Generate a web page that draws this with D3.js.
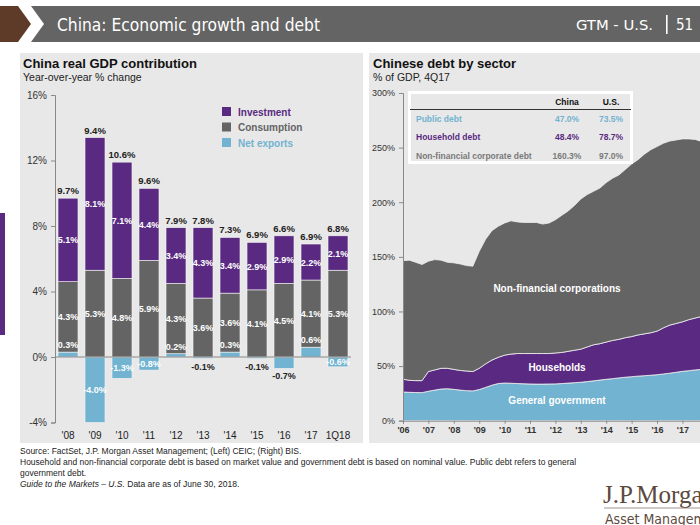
<!DOCTYPE html>
<html><head><meta charset="utf-8">
<script src="https://cdn.jsdelivr.net/npm/d3@7"></script>
<style>
body{margin:0;background:#fff;}
svg{display:block;font-family:"Liberation Sans",Arial,sans-serif;}
</style></head>
<body>
<svg id="c" width="700" height="525"></svg>
<script>
// ---------- DATA ----------
const gdpCats = ["'08","'09","'10","'11","'12","'13","'14","'15","'16","'17","1Q18"];
const investment = [5.1, 8.1, 7.1, 4.4, 3.4, 4.3, 3.4, 2.9, 2.9, 2.2, 2.1];
const consumption = [4.3, 5.3, 4.8, 5.9, 4.3, 3.6, 3.6, 4.1, 4.5, 4.1, 5.3];
const netExports = [0.3, -4.0, -1.3, -0.8, 0.2, -0.1, 0.3, -0.1, -0.7, 0.6, -0.6];
const gdpTotals = [9.7, 9.4, 10.6, 9.6, 7.9, 7.8, 7.3, 6.9, 6.6, 6.9, 6.8];
const gdpTicks = [-4, 0, 4, 8, 12, 16];
const netLabelOutside = ["'13", "'15", "'16"];
const gdpLegend = ["Investment", "Consumption", "Net exports"];

// quarterly, 1Q06 .. 4Q17
const govDebt = [26.3,26.0,25.8,25.7,27.0,28.0,29.0,29.3,28.7,28.0,27.5,27.3,28.5,30.5,32.5,34.0,34.5,34.3,34.0,33.8,33.6,33.5,33.5,33.6,33.7,34.0,34.4,34.8,35.2,35.8,36.5,37.2,37.9,38.5,39.2,39.8,40.3,40.8,41.2,41.6,42.1,42.8,43.5,44.3,45.2,45.8,46.5,47.0];
const householdDebt = [11.7,11.0,10.9,11.0,18.0,18.5,19.0,18.7,18.3,18.0,18.0,17.7,19.5,21.5,23.0,24.0,25.5,26.7,27.5,27.7,27.9,28.0,28.0,27.9,28.3,28.5,29.1,29.7,30.3,31.7,33.0,33.3,34.1,35.0,35.3,36.2,36.7,37.7,38.3,38.9,39.9,42.2,44.0,44.7,45.3,46.7,47.5,48.4];
const corpDebt = [108.5,110.0,108.3,106.3,101.0,101.0,99.0,97.0,97.5,97.5,96.5,96.5,107.0,114.0,118.5,120.0,121.0,122.0,120.5,120.0,120.0,120.0,118.5,119.5,122.0,125.5,128.5,132.5,137.5,139.5,140.5,142.5,146.0,148.5,150.5,154.0,158.0,160.5,164.5,167.5,169.0,169.0,168.5,168.0,167.5,165.5,163.5,160.3];
const debtYearLabels = ["'06","'07","'08","'09","'10","'11","'12","'13","'14","'15","'16","'17"];
const debtTicks = [0, 50, 100, 150, 200, 250, 300];
const tableRows = ["Public debt", "Household debt", "Non-financial corporate debt"];
const tableChina = ["47.0%", "48.4%", "160.3%"];
const tableUS = ["73.5%", "78.7%", "97.0%"];
const areaLabels = ["General government", "Households", "Non-financial corporations"];

// ---------- STYLE ----------
const PURPLE = "#5a2a82", GRAY = "#646464", BLUE = "#71b3d0", PANEL = "#e8e8e8";
const NARROW = "'Liberation Sans Narrow','DejaVu Sans Condensed',sans-serif";
const svg = d3.select("#c");

// Header
svg.append("polygon").attr("points","0,6 18,6 31,24 18,42 0,42").attr("fill","#5e3a29");
svg.append("polygon").attr("points","31,6 700,6 700,42 31,42 44,24").attr("fill","#646464");
svg.append("text").attr("x",57).attr("y",31).attr("fill","#fff")
  .style("font-family",NARROW).style("font-size","18.5px")
  .attr("textLength",263).attr("lengthAdjust","spacingAndGlyphs")
  .text("China: Economic growth and debt");
svg.append("text").attr("x",576).attr("y",30).attr("fill","#fff")
  .style("font-family",NARROW).style("font-size","14px")
  .attr("textLength",77).attr("lengthAdjust","spacingAndGlyphs").text("GTM - U.S.");
svg.append("rect").attr("x",666).attr("y",15).attr("width",1.6).attr("height",19).attr("fill","#fff");
svg.append("text").attr("x",676).attr("y",30).attr("fill","#fff")
  .style("font-family",NARROW).style("font-size","15px").text("51");

// side accent
svg.append("rect").attr("x",0).attr("y",213).attr("width",5).attr("height",122).attr("fill",PURPLE);

// Panels
svg.append("rect").attr("x",20).attr("y",53).attr("width",343).attr("height",390).attr("fill",PANEL);
svg.append("rect").attr("x",369).attr("y",53).attr("width",331).attr("height",390).attr("fill",PANEL);

// ---------- LEFT CHART ----------
const L = svg.append("g");
L.append("text").attr("x",23).attr("y",68).style("font-size","13px").style("font-weight","bold").attr("fill","#111").text("China real GDP contribution");
L.append("text").attr("x",23).attr("y",81).style("font-size","10.5px").attr("fill","#222").text("Year-over-year % change");

const xL = d3.scaleBand().domain(gdpCats).range([54.5, 351.5]).paddingInner(0.26).paddingOuter(0.13);
const yL = d3.scaleLinear().domain([-4, 16]).range([422.5, 95]);

const yAxL = L.append("g").attr("transform","translate(55,0)")
  .call(d3.axisLeft(yL).tickValues(gdpTicks).tickSize(4).tickPadding(4).tickFormat(d => d + "%"));
yAxL.select(".domain").attr("stroke","#888");
yAxL.selectAll(".tick line").attr("stroke","#888");
yAxL.selectAll("text").style("font-size","10px").attr("fill","#333").style("font-family","'Liberation Sans',Arial,sans-serif");

// bars
const rows = gdpCats.map((c,i)=>({c, inv:investment[i], con:consumption[i], net:netExports[i], tot:gdpTotals[i]}));
const bw = xL.bandwidth();
rows.forEach(r=>{
  const x = xL(r.c);
  const base = Math.max(0, r.net);
  const ny0 = Math.min(yL(0), yL(r.net)), nh = Math.abs(yL(r.net)-yL(0));
  L.append("rect").attr("x",x).attr("y",ny0).attr("width",bw).attr("height",nh).attr("fill",BLUE).attr("stroke","#f4f4f4").attr("stroke-width",0.6);
  L.append("rect").attr("x",x).attr("y",yL(base+r.con)).attr("width",bw).attr("height",yL(base)-yL(base+r.con)).attr("fill",GRAY).attr("stroke","#f4f4f4").attr("stroke-width",0.6);
  const top = base + r.con + r.inv;
  L.append("rect").attr("x",x).attr("y",yL(top)).attr("width",bw).attr("height",yL(base+r.con)-yL(top)).attr("fill",PURPLE).attr("stroke","#f4f4f4").attr("stroke-width",0.6);
  const cx = x + bw/2;
  const seg = (v, y, col) => L.append("text").attr("x",cx).attr("y",y).attr("text-anchor","middle")
      .style("font-size","9px").style("font-weight","bold").attr("fill",col).text(v.toFixed(1)+"%");
  seg(r.inv, yL(base + r.con + r.inv/2) + 3.5, "#fff");
  seg(r.con, yL(base + r.con/2) + 3.5, "#fff");
  if (r.net > 0) seg(r.net, yL(r.net) - 4, "#fff");
  else if (netLabelOutside.includes(r.c)) seg(r.net, yL(r.net) + 11, "#222");
  else seg(r.net, yL(r.net/2) + 3.5, "#fff");
  L.append("text").attr("x",cx).attr("y",yL(top)-4).attr("text-anchor","middle")
    .style("font-size","9.5px").style("font-weight","bold").attr("fill","#222").text(r.tot.toFixed(1)+"%");
});
L.append("line").attr("x1",55).attr("x2",351).attr("y1",yL(0)).attr("y2",yL(0)).attr("stroke","#888");
L.append("g").selectAll("text").data(gdpCats).join("text")
  .attr("x",d=>xL(d)+bw/2).attr("y",439).attr("text-anchor","middle")
  .style("font-size","10px").attr("fill","#222").text(d=>d);

// legend
const legCols = [PURPLE, GRAY, BLUE];
gdpLegend.forEach((t,i)=>{
  const y = 107 + i*15.5;
  L.append("rect").attr("x",222).attr("y",y).attr("width",9).attr("height",9).attr("fill",legCols[i]);
  L.append("text").attr("x",238).attr("y",y+8.5).style("font-size","10px").style("font-weight","bold").attr("fill",legCols[i]).text(t);
});

// ---------- RIGHT CHART ----------
const R = svg.append("g");
R.append("text").attr("x",373).attr("y",68).style("font-size","13px").style("font-weight","bold").attr("fill","#111").text("Chinese debt by sector");
R.append("text").attr("x",373).attr("y",81).style("font-size","10.5px").attr("fill","#222").text("% of GDP, 4Q17");

const xR = d3.scaleLinear().domain([0, govDebt.length-1]).range([403, 701.5]);
const yR = d3.scaleLinear().domain([0, 300]).range([420.7, 93]);

const debtRows = govDebt.map((g,i)=>({i, gov:g, hh:householdDebt[i], corp:corpDebt[i]}));
const stack = d3.stack().keys(["gov","hh","corp"])(debtRows);
const area = d3.area().x(d=>xR(d.data.i)).y0(d=>yR(d[0])).y1(d=>yR(d[1]));
const areaCols = [BLUE, PURPLE, GRAY];
R.append("clipPath").attr("id","clipR").append("rect").attr("x",403).attr("y",53).attr("width",297).attr("height",390);
const ag = R.append("g").attr("clip-path","url(#clipR)");
ag.selectAll("path").data(stack).join("path").attr("d",area).attr("fill",(d,i)=>areaCols[i])
  .attr("stroke","#f0f0f0").attr("stroke-width",0.8);

const yAxR = R.append("g").attr("transform","translate(403,0)")
  .call(d3.axisLeft(yR).tickValues(debtTicks).tickSize(4).tickPadding(4).tickFormat(d=>d+"%"));
yAxR.select(".domain").attr("stroke","#888");
yAxR.selectAll(".tick line").attr("stroke","#888");
yAxR.selectAll("text").style("font-size","9px").attr("fill","#333").style("font-family","'Liberation Sans',Arial,sans-serif");

const xAxR = R.append("g").attr("transform","translate(0,420.7)")
  .call(d3.axisBottom(xR).tickValues(debtYearLabels.map((d,i)=>i*4)).tickSize(3).tickPadding(3).tickFormat((d,i)=>debtYearLabels[i]));
xAxR.select(".domain").attr("stroke","#888");
xAxR.selectAll(".tick line").attr("stroke","#888");
xAxR.selectAll("text").style("font-size","9px").style("font-weight","bold").attr("fill","#333").style("font-family","'Liberation Sans',Arial,sans-serif");

// area labels
const alY = [404, 370.5, 291.5];
areaLabels.forEach((t,i)=>{
  R.append("text").attr("x",557).attr("y",alY[i]).attr("text-anchor","middle")
    .style("font-size","10px").style("font-weight","bold").attr("fill","#fff").text(t);
});

// table
R.append("rect").attr("x",408).attr("y",91).attr("width",225).attr("height",73).attr("fill","#fff");
R.append("rect").attr("x",411).attr("y",94).attr("width",219).attr("height",67).attr("fill",PANEL);
R.append("text").attr("x",567).attr("y",105).attr("text-anchor","middle").style("font-size","8.5px").style("font-weight","bold").attr("fill","#111").text("China");
R.append("text").attr("x",611).attr("y",105).attr("text-anchor","middle").style("font-size","8.5px").style("font-weight","bold").attr("fill","#111").text("U.S.");
R.append("line").attr("x1",410).attr("x2",631).attr("y1",109.5).attr("y2",109.5).attr("stroke","#333").attr("stroke-width",1);
const tCols = [BLUE, PURPLE, "#7a7a7a"];
tableRows.forEach((t,i)=>{
  const y = 122 + i*18.3;
  R.append("text").attr("x",416).attr("y",y).style("font-size","8.5px").style("font-weight","bold").attr("fill",tCols[i]).text(t);
  R.append("text").attr("x",567).attr("y",y).attr("text-anchor","middle").style("font-size","8.5px").style("font-weight","bold").attr("fill",tCols[i]).text(tableChina[i]);
  R.append("text").attr("x",611).attr("y",y).attr("text-anchor","middle").style("font-size","8.5px").style("font-weight","bold").attr("fill",tCols[i]).text(tableUS[i]);
});

// ---------- FOOTER ----------
const foot = [
  "Source: FactSet, J.P. Morgan Asset Management; (Left) CEIC; (Right) BIS.",
  "Household and non-financial corporate debt is based on market value and government debt is based on nominal value. Public debt refers to general",
  "government debt."
];
foot.forEach((t,k)=>{
  svg.append("text").attr("x",20).attr("y",454 + k*11).style("font-size","8.5px").attr("fill","#222").text(t);
});
const g4 = svg.append("text").attr("x",20).attr("y",487).style("font-size","8.5px").attr("fill","#222");
g4.append("tspan").style("font-style","italic").text("Guide to the Markets – U.S.");
g4.append("tspan").text(" Data are as of June 30, 2018.");

// logo (clipped at right edge, as in the reference)
svg.append("text").attr("x",603).attr("y",503).style("font-family","'Liberation Serif',serif").style("font-size","25px").attr("fill","#5c4a3e").text("J.P.Morgan");
svg.append("line").attr("x1",604).attr("x2",700).attr("y1",508).attr("y2",508).attr("stroke","#8a7a6e").attr("stroke-width",0.8);
svg.append("text").attr("x",605).attr("y",524).style("font-family",NARROW).style("font-size","14px").attr("fill","#5c4a3e").text("Asset Management");
</script>
</body></html>
